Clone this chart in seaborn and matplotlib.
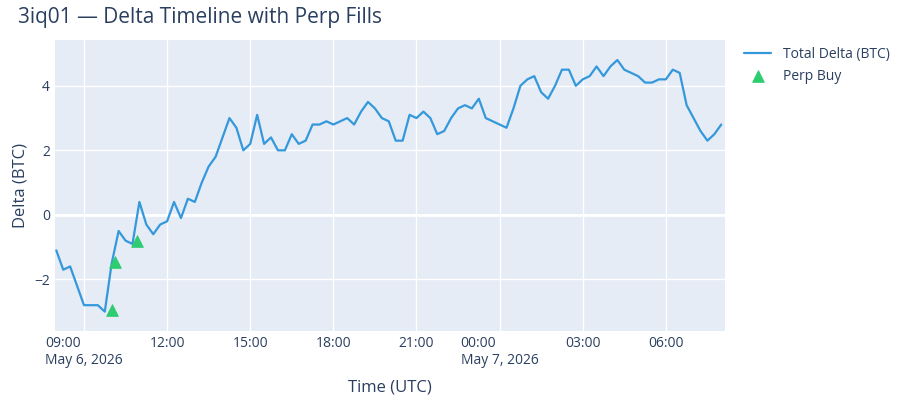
import pandas as pd
import numpy as np
import matplotlib.pyplot as plt
import matplotlib.dates as mdates
import seaborn as sns

# Delta every 15 minutes (May 6 08:00 -> May 7 08:00)
start = '2026-05-06 08:00'
delta_values = [
    -1.1, -1.7, -1.6, -2.2, -2.8, -2.8, -2.8, -3.0, -1.5, -0.5, -0.8, -0.9,
    0.4, -0.3, -0.6, -0.3, -0.2, 0.4, -0.1, 0.5, 0.4, 1.0, 1.5, 1.8,
    2.4, 3.0, 2.7, 2.0, 2.2, 3.1, 2.2, 2.4, 2.0, 2.0, 2.5, 2.2,
    2.3, 2.8, 2.8, 2.9, 2.8, 2.9, 3.0, 2.8, 3.2, 3.5, 3.3, 3.0,
    2.9, 2.3, 2.3, 3.1, 3.0, 3.2, 3.0, 2.5, 2.6, 3.0, 3.3, 3.4,
    3.3, 3.6, 3.0, 2.9, 2.8, 2.7, 3.3, 4.0, 4.2, 4.3, 3.8, 3.6,
    4.0, 4.5, 4.5, 4.0, 4.2, 4.3, 4.6, 4.3, 4.6, 4.8, 4.5, 4.4,
    4.3, 4.1, 4.1, 4.2, 4.2, 4.5, 4.4, 3.4, 3.0, 2.6, 2.3, 2.5, 2.8,
]
fill_times = ['2026-05-06 10:00', '2026-05-06 10:08', '2026-05-06 10:55']
fill_deltas = [-2.95, -1.45, -0.8]

df = pd.DataFrame({'time': pd.date_range(start, periods=len(delta_values), freq='15min'),
                   'delta': delta_values})
fills = pd.DataFrame({'time': pd.to_datetime(fill_times), 'delta': fill_deltas})

sns.set_style('whitegrid')
plt.rcParams['font.family'] = ['Open Sans', 'DejaVu Sans']

fig = plt.figure(figsize=(9, 4), dpi=100)
ax = fig.add_axes([0.061, 0.1725, 0.744, 0.7275])
ax.set_facecolor('#E5ECF6')
ax.grid(color='white', linewidth=1)
for s in ax.spines.values():
    s.set_visible(False)
ax.axhline(0, color='white', linewidth=2, zorder=1)

sns.lineplot(data=df, x='time', y='delta', ax=ax, color='#3498db', linewidth=1.6,
             label='Total Delta (BTC)')
sns.scatterplot(data=fills, x='time', y='delta', ax=ax, color='#2ecc71', marker='^',
                s=70, edgecolor='#2ecc71', zorder=5, label='Perp Buy')

ax.set_xlim(pd.Timestamp('2026-05-06 07:57'), pd.Timestamp('2026-05-07 08:07'))
ax.set_ylim(-3.6, 5.42)
ax.set_yticks([-2, 0, 2, 4])
ax.set_yticklabels(['−2', '0', '2', '4'])
ticks = pd.date_range('2026-05-06 09:00', periods=8, freq='3h')
ax.set_xticks(ticks)
labels = [t.strftime('%H:%M') for t in ticks]
labels[0] += '\nMay 6, 2026'
labels[5] += '\nMay 7, 2026'
ax.set_xticklabels(labels, ha='center', multialignment='left')
ax.tick_params(colors='#2a3f5f', labelsize=10, length=0)
ax.set_xlabel('Time (UTC)', fontsize=12, color='#2a3f5f', labelpad=8)
ax.set_ylabel('Delta (BTC)', fontsize=12, color='#2a3f5f')
fig.text(0.02, 0.955, '3iq01 — Delta Timeline with Perp Fills', fontsize=15, color='#2a3f5f', va='center')

leg = ax.legend(loc='upper left', bbox_to_anchor=(1.01, 1.02), frameon=False, fontsize=10)
for t in leg.get_texts():
    t.set_color('#2a3f5f')

fig.savefig('out.png')
